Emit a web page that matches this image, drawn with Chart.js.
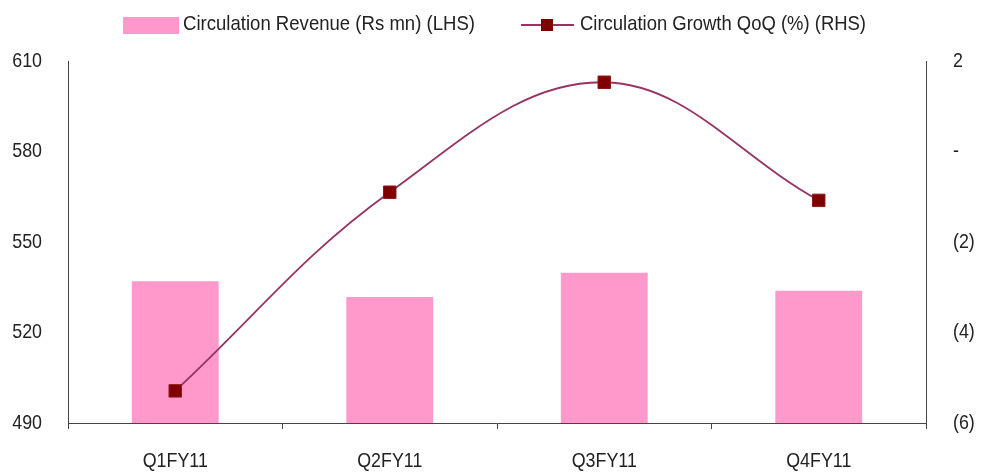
<!DOCTYPE html>
<html>
<head>
<meta charset="utf-8">
<script src="https://cdn.jsdelivr.net/npm/chart.js@4/dist/chart.umd.min.js"></script>
<style>
html,body{margin:0;padding:0;background:#fff;}
#wrap{width:984px;height:474px;position:relative;}
</style>
</head>
<body>
<div id="wrap"><canvas id="c" width="984" height="474"></canvas></div>
<script>
const categories = ['Q1FY11', 'Q2FY11', 'Q3FY11', 'Q4FY11'];
const revenue = [537.0, 531.8, 539.8, 533.8];
const growth = [-5.29, -0.90, 1.53, -1.08];
const leftTicks = [490, 520, 550, 580, 610];
const rightTicks = [-6, -4, -2, 0, 2];
const seriesNames = ['Circulation Revenue (Rs mn) (LHS)', 'Circulation Growth QoQ (%) (RHS)'];

const FONT = "'Liberation Sans', Arial, sans-serif";
const AXIS = '#454545';
const BAR = '#FF99CC';
const LINE = '#993366';
const MARK = '#800000';
const TEXT = '#222';
const SQUEEZE = 0.85;

const squeezePlugin = {
  id: 'squeezeText',
  beforeDraw(chart) {
    const ctx = chart.ctx;
    if (ctx._squeezed) return;
    const orig = ctx.fillText;
    ctx._origFillText = orig;
    ctx.fillText = function (t, x, y) {
      this.save();
      this.translate(x, y);
      this.scale(SQUEEZE, 1);
      orig.call(this, t, 0, 0);
      this.restore();
    };
    ctx._squeezed = true;
  }
};

const legendPlugin = {
  id: 'customLegend',
  afterDraw(chart) {
    const ctx = chart.ctx;
    const orig = ctx._origFillText || ctx.fillText;
    ctx.save();
    ctx.fillStyle = BAR;
    ctx.fillRect(123, 17, 56, 17);
    ctx.strokeStyle = LINE;
    ctx.lineWidth = 2;
    ctx.beginPath(); ctx.moveTo(521, 25); ctx.lineTo(574, 25); ctx.stroke();
    ctx.fillStyle = MARK;
    ctx.fillRect(541, 19, 12, 12);
    ctx.font = '21px ' + FONT;
    ctx.fillStyle = TEXT;
    ctx.textBaseline = 'middle';
    ctx.textAlign = 'left';
    const items = [[seriesNames[0], 183, 292], [seriesNames[1], 580, 286]];
    items.forEach(([t, x, w]) => {
      const m = ctx.measureText(t).width;
      ctx.save();
      ctx.translate(x, 24);
      ctx.scale(w / m, 1);
      orig.call(ctx, t, 0, 0);
      ctx.restore();
    });
    ctx.restore();
  }
};

Chart.defaults.font.family = FONT;
Chart.defaults.font.size = 21;
Chart.defaults.color = TEXT;

new Chart(document.getElementById('c'), {
  data: {
    labels: categories,
    datasets: [
      {
        type: 'line',
        label: seriesNames[1],
        data: growth,
        yAxisID: 'y1',
        borderColor: LINE,
        borderWidth: 1.8,
        tension: 0.38,
        pointStyle: 'rect',
        pointRadius: 8.8,
        pointBackgroundColor: MARK,
        pointBorderColor: '#8a1a1a',
        pointBorderWidth: 1,
        order: 0
      },
      {
        type: 'bar',
        label: seriesNames[0],
        data: revenue,
        yAxisID: 'y',
        backgroundColor: BAR,
        borderWidth: 0,
        barPercentage: 0.405,
        categoryPercentage: 1,
        order: 1
      }
    ]
  },
  options: {
    responsive: false,
    animation: false,
    layout: { padding: { top: 61, left: 0, right: 0, bottom: 0 } },
    plugins: { legend: { display: false }, tooltip: { enabled: false } },
    scales: {
      x: {
        offset: true,
        grid: { offset: true, drawOnChartArea: false, drawTicks: true, tickLength: 6, color: AXIS, lineWidth: 1 },
        border: { display: true, color: AXIS, width: 1 },
        ticks: { padding: 20, maxRotation: 0, minRotation: 0, autoSkip: false, color: TEXT },
        afterFit(s) { s.height = 51; }
      },
      y: {
        position: 'left',
        min: 490, max: 610,
        afterBuildTicks(s) { s.ticks = leftTicks.map(v => ({ value: v })); },
        grid: { display: false, drawTicks: false },
        border: { display: true, color: AXIS, width: 1 },
        ticks: { padding: 26, color: TEXT },
        afterFit(s) { s.width = 68; }
      },
      y1: {
        position: 'right',
        min: -6, max: 2,
        afterBuildTicks(s) { s.ticks = rightTicks.map(v => ({ value: v })); },
        grid: { display: false, drawTicks: false },
        border: { display: true, color: AXIS, width: 1 },
        ticks: {
          padding: 27, color: TEXT,
          callback(v) { return v === 0 ? '-' : (v < 0 ? '(' + (-v) + ')' : String(v)); }
        },
        afterFit(s) { s.width = 58; }
      }
    }
  },
  plugins: [squeezePlugin, legendPlugin]
});
</script>
</body>
</html>
